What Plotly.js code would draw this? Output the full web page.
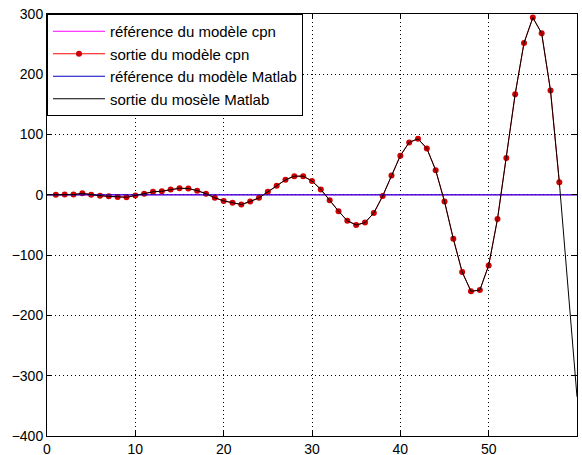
<!DOCTYPE html>
<html>
<head>
<meta charset="utf-8">
<script src="https://cdn.plot.ly/plotly-3.0.1.min.js"></script>
<style>html,body{margin:0;padding:0;background:#fff;}#chart{width:582px;height:455px;}</style>
</head>
<body>
<div id="chart"></div>
<script>
// sample times of the cpn model output (markers)
const cpnX = [1,2,3,4,5,6,7,8,9,10,11,12,13,14,15,16,17,18,19,20,21,22,23,24,25,26,27,28,29,30,
  31,32,33,34,35,36,37,38,39,40,41,42,43,44,45,46,47,48,49,50,51,52,53,54,55,56,57,58];
const cpnY = [0,0.5,0.5,2.5,0,-1.5,-2.5,-3.5,-4,-1,2,5,6,9,11,10.5,7,2,-5,-10,-13,-16,-11,-5,5,15,25,31,31,23,
  9,-9,-27,-43,-50,-46,-30,-2,32,65,87,93,77,41,-11,-73,-128,-160,-158,-117,-40,61,167,252,294,268,173,21];
// Matlab model output
const matX = [0,1,2,3,4,5,6,7,8,9,10,11,12,13,14,15,16,17,18,19,20,21,22,23,24,25,26,27,28,29,30,
  31,32,33,34,35,36,37,38,39,40,41,42,43,44,45,46,47,48,49,50,51,52,53,54,55,56,57,58,59,60];
const matY = [0,0,0.5,0.5,2.5,0,-1.5,-2.5,-3.5,-4,-1,2,5,6,9,11,10.5,7,2,-5,-10,-13,-16,-11,-5,5,15,25,31,31,23,
  9,-9,-27,-43,-50,-46,-30,-2,32,65,87,93,77,41,-11,-73,-128,-160,-158,-117,-40,61,167,252,294,268,173,21,-157,-335];
// references (zero)
const refX = [0,60];
const refY = [0,0];
const names = ["référence du modèle cpn","sortie du modèle cpn","référence du modèle Matlab","sortie du mosèle Matlab"];

const traces = [
  {x: refX, y: refY, mode: 'lines', name: names[0], line: {color: '#ff00ff', width: 1}},
  {x: cpnX, y: cpnY, mode: 'lines+markers', name: names[1], line: {color: '#ff0000', width: 1},
   marker: {color: '#d00000', size: 6, symbol: 'circle'}},
  {x: refX, y: refY, mode: 'lines', name: names[2], line: {color: '#0000c8', width: 1}},
  {x: matX, y: matY, mode: 'lines', name: names[3], line: {color: '#000000', width: 1}}
];

const axisCommon = {
  showline: true, linecolor: '#000', linewidth: 1, mirror: 'ticks',
  ticks: 'inside', ticklen: 5, tickcolor: '#000', tickwidth: 1,
  showgrid: true, gridcolor: '#000', gridwidth: 1, griddash: '1px,3px',
  zeroline: false,
  tickfont: {family: 'Liberation Sans, Arial, sans-serif', size: 14, color: '#000'}
};

const layout = {
  width: 582, height: 455,
  margin: {l: 47, r: 5, t: 14, b: 19},
  paper_bgcolor: '#fff', plot_bgcolor: '#fff',
  xaxis: Object.assign({}, axisCommon, {range: [0, 60], dtick: 10, tick0: 0}),
  yaxis: Object.assign({}, axisCommon, {range: [-400, 300], dtick: 100, tick0: 0}),
  showlegend: true,
  legend: {
    x: 0, y: 1, xanchor: 'left', yanchor: 'top',
    bgcolor: '#fff', bordercolor: '#000', borderwidth: 1,
    font: {family: 'Liberation Sans, Arial, sans-serif', size: 15, color: '#000'},
    tracegroupgap: 0, itemwidth: 52
  }
};

Plotly.newPlot('chart', traces, layout, {displayModeBar: false, staticPlot: true});
</script>
</body>
</html>
